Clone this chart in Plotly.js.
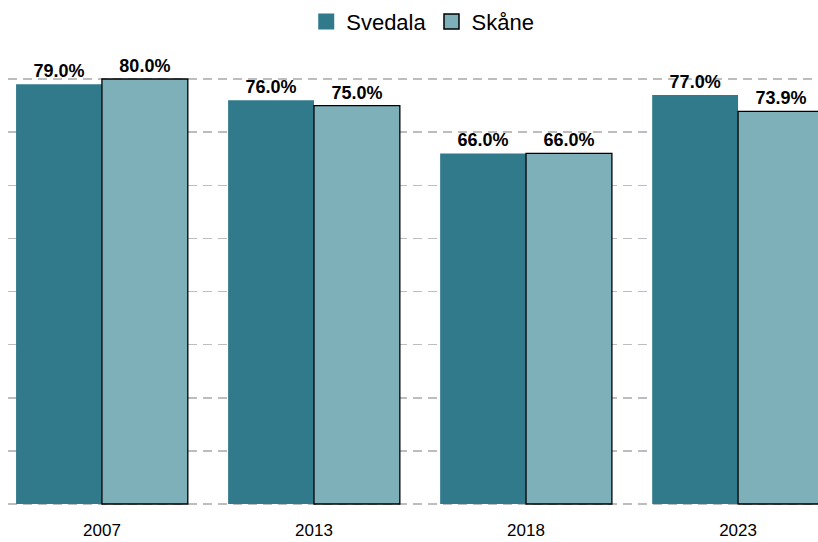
<!DOCTYPE html>
<html>
<head>
<meta charset="utf-8">
<script src="https://cdn.plot.ly/plotly-3.0.1.min.js"></script>
<style>
  html, body { margin: 0; padding: 0; background: #fff; }
  #chart { width: 818px; height: 542px; }
</style>
</head>
<body>
<div id="chart"></div>
<script>
const years = ["2007", "2013", "2018", "2023"];
const svedala = [79.0, 76.0, 66.0, 77.0];
const skane = [80.0, 75.0, 66.0, 73.9];
const seriesNames = ["Svedala", "Skåne"];
const colors = ["#317a8c", "#7eb0ba"];

const fmt = (v) => v.toFixed(1) + "%";
const labelFont = { family: "Liberation Sans, Arial, sans-serif", size: 18, color: "#000", weight: "bold" };

// bars (legend drawn with the marker traces below, to get bigger swatches)
const traceSvedala = {
	type: "bar",
	name: seriesNames[0],
	x: years,
	y: svedala,
	text: svedala.map(fmt),
	textposition: "outside",
	cliponaxis: false,
	textfont: labelFont,
	marker: { color: colors[0], line: { width: 0 } },
	showlegend: false,
	hoverinfo: "none",
};
const traceSkane = {
	type: "bar",
	name: seriesNames[1],
	x: years,
	y: skane,
	text: skane.map(fmt),
	textposition: "outside",
	cliponaxis: false,
	textfont: labelFont,
	marker: { color: colors[1], line: { color: "#000", width: 1.3 } },
	showlegend: false,
	hoverinfo: "none",
};

const legendSvedala = {
	type: "scatter",
	mode: "markers",
	name: seriesNames[0],
	x: [years[0]],
	y: [null],
	marker: { symbol: "square", size: 16, color: colors[0], line: { width: 0 } },
	hoverinfo: "none",
};
const legendSkane = {
	type: "scatter",
	mode: "markers",
	name: seriesNames[1],
	x: [years[0]],
	y: [null],
	marker: { symbol: "square", size: 15, color: colors[1], line: { color: "#000", width: 1.5 } },
	hoverinfo: "none",
};

const layout = {
	width: 818,
	height: 542,
	margin: { l: 8, r: 0, t: 60, b: 36 },
	paper_bgcolor: "#fff",
	plot_bgcolor: "#fff",
	font: { family: "Liberation Sans, Arial, sans-serif", color: "#000" },
	barmode: "group",
	bargap: 0.19,
	bargroupgap: 0,
	showlegend: true,
	legend: {
		orientation: "h",
		x: 0.512,
		xanchor: "center",
		y: 1.086,
		yanchor: "middle",
		font: { size: 22 },
		itemsizing: "trace",
		itemwidth: 30,
	},
	xaxis: {
		type: "category",
		range: [-0.443, 3.377],
		showgrid: false,
		showline: false,
		ticks: "",
		ticklabelstandoff: 12,
		tickfont: { size: 17 },
	},
	yaxis: {
		range: [-0.376, 83.58],
		dtick: 10,
		showticklabels: false,
		showgrid: true,
		gridcolor: "#bdbdbd",
		griddash: "9px,6px",
		gridwidth: 1.5,
		zeroline: false,
		showline: false,
		ticks: "",
	},
};

Plotly.newPlot("chart", [traceSvedala, traceSkane, legendSvedala, legendSkane], layout, { staticPlot: true });
</script>
</body>
</html>
